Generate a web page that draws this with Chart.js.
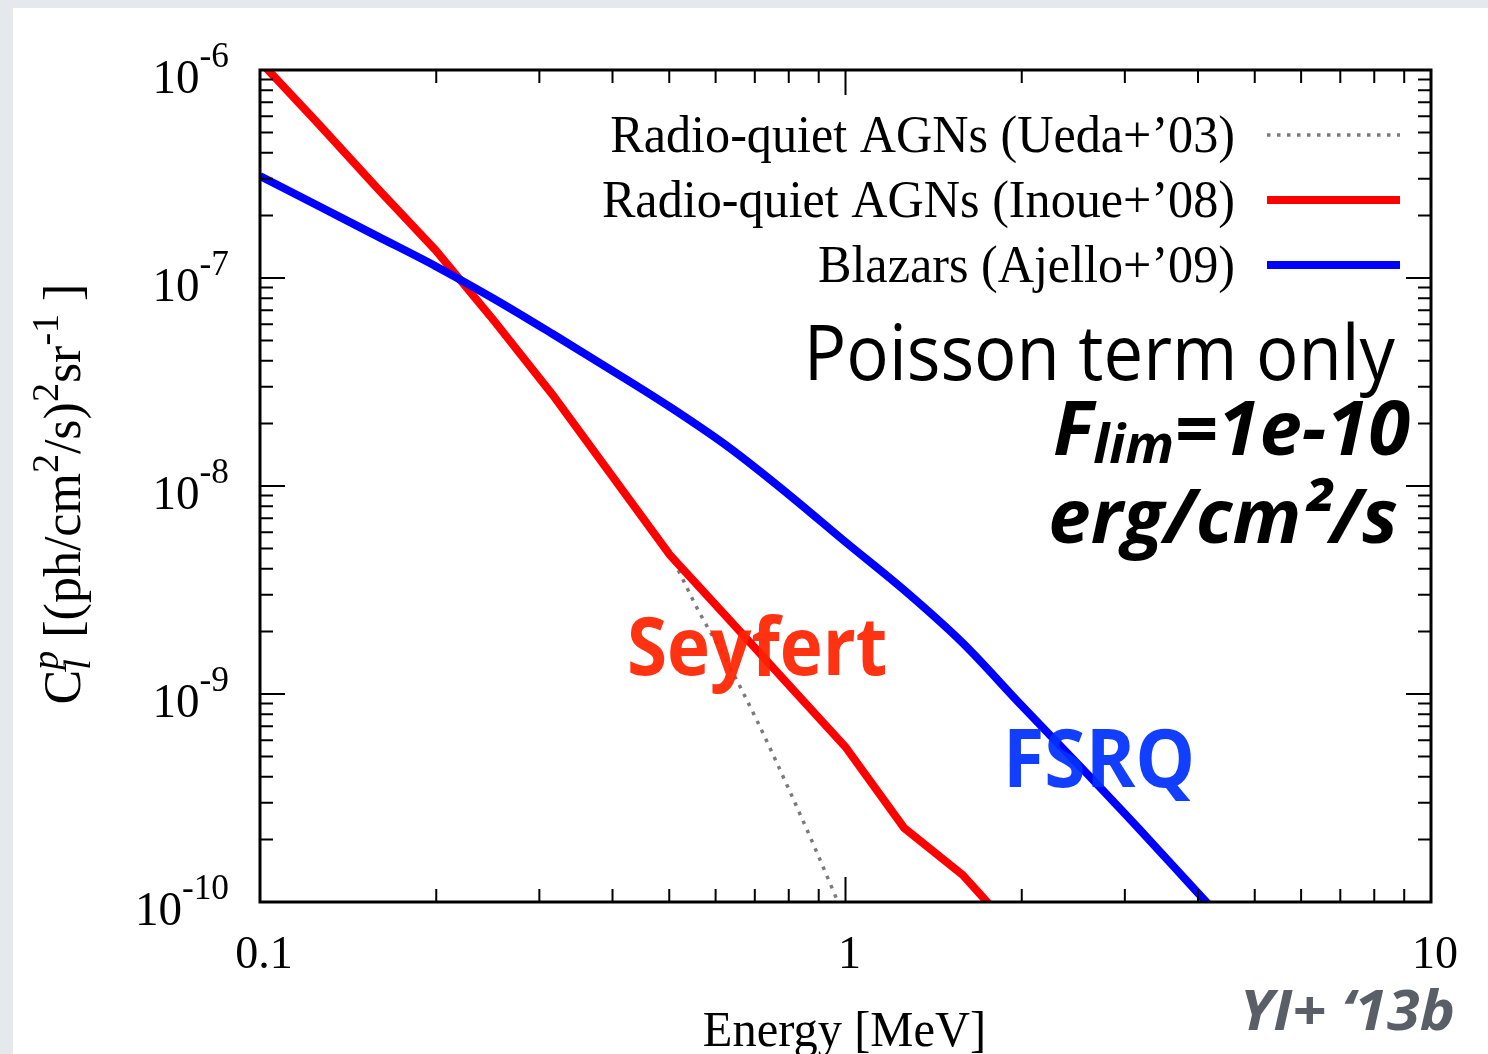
<!DOCTYPE html>
<html lang="en">
  <head>
    <meta charset="UTF-8" />
    <script src="https://cdn.jsdelivr.net/npm/chart.js@4.4.1/dist/chart.umd.min.js"></script>
    <title>Poisson term only</title>
    <style>
      html, body { margin: 0; padding: 0; overflow: hidden; background: #e5e8ec; }
      #panel { position: absolute; left: 13px; top: 8px; right: 0; bottom: 0; background: #ffffff; }
      #myChart { position: absolute; left: 0; top: 0; }
    </style>
  </head>
  <body>
    <div id="panel"></div>
    <canvas id="myChart" width="1488" height="1054"></canvas>
    <script>
      // energies on a 0.1 dex grid [MeV]
      const energies = [0.1, 0.1259, 0.1585, 0.1995, 0.2512, 0.3162, 0.3981, 0.5012,
        0.631, 0.7943, 1.0, 1.259, 1.585, 1.995, 2.512, 3.162, 3.981, 5.012];

      // Radio-quiet AGNs (Inoue+'08)
      const inoue08 = [1.10e-6, 5.50e-7, 2.71e-7, 1.36e-7, 6.21e-8, 2.74e-8, 1.13e-8, 4.66e-9,
        2.30e-9, 1.13e-9, 5.56e-10, 2.27e-10, 1.35e-10, 6.6e-11];

      // Blazars (Ajello+'09)
      const ajello09 = [3.09e-7, 2.22e-7, 1.59e-7, 1.14e-7, 7.93e-8, 5.38e-8, 3.61e-8, 2.40e-8,
        1.54e-8, 9.25e-9, 5.38e-9, 3.16e-9, 1.76e-9, 8.85e-10, 4.51e-10, 2.27e-10, 1.12e-10, 5.56e-11];

      // Radio-quiet AGNs (Ueda+'03): follows Inoue below 0.5 MeV, then drops faster
      const uedaE = [0.1, 0.1259, 0.1585, 0.1995, 0.2512, 0.3162, 0.3981, 0.5012,
        0.5623, 0.631, 0.7079, 0.7943, 0.8913, 1.0];
      const ueda03 = [1.10e-6, 5.50e-7, 2.71e-7, 1.36e-7, 6.21e-8, 2.74e-8, 1.13e-8, 4.66e-9,
        2.48e-9, 1.39e-9, 7.33e-10, 3.65e-10, 1.76e-10, 8.19e-11];

      const seriesNames = ["Radio-quiet AGNs (Ueda+\u201903)", "Radio-quiet AGNs (Inoue+\u201908)", "Blazars (Ajello+\u201909)"];

      // axis ticks
      const xMajor = [0.1, 1, 10];
      const xTickLabels = ["0.1", "1", "10"];
      const yExps = [-10, -9, -8, -7, -6];
      const tickMults = [2, 3, 4, 5, 6, 7, 8, 9];

      function pts(xs, ys) {
        return ys.map((v, i) => ({ x: xs[i], y: v }));
      }

      const SERIF = "'Liberation Serif', 'Times New Roman', serif";
      const SANS = "'Open Sans', 'Noto Sans', sans-serif";

      function txt(ctx, s, x, y, font, color, align, sx) {
        ctx.save();
        ctx.font = font;
        ctx.fillStyle = color;
        ctx.textAlign = align;
        ctx.textBaseline = "alphabetic";
        ctx.translate(x, y);
        ctx.scale(sx, 1);
        ctx.fillText(s, 0, 0);
        ctx.restore();
      }

      // draws a run of [text, font, dy] pieces starting at x
      function runWidth(ctx, parts, sx) {
        let w = 0;
        parts.forEach((p) => { ctx.font = p[1]; w += ctx.measureText(p[0]).width * sx; });
        return w;
      }
      function drawRun(ctx, parts, x, y, color, sx) {
        let cx = x;
        parts.forEach((p) => {
          txt(ctx, p[0], cx, y + (p[2] || 0), p[1], color, "left", sx);
          ctx.font = p[1];
          cx += ctx.measureText(p[0]).width * sx;
        });
      }

      const gnuplotFrame = {
        id: "gnuplotFrame",
        afterDatasetsDraw(chart) {
          const ctx = chart.ctx;
          const a = chart.chartArea;
          const xs = chart.scales.x, ys = chart.scales.y;

          // annotations (a little transparent, lines show through)
          ctx.save();
          ctx.globalAlpha = 0.93;
          txt(ctx, "Seyfert", 627, 675, "bold 80px " + SANS, "#ff2200", "left", 0.91);
          txt(ctx, "FSRQ", 1003, 787, "bold 80px " + SANS, "#0030ff", "left", 0.94);
          ctx.restore();

          txt(ctx, "Poisson term only", 1395, 380, "76px " + SANS, "#000", "right", 0.93);
          const fl = [["F", "italic bold 76px " + SANS, 0], ["lim", "italic bold 54px " + SANS, 8], ["=1e-10", "italic bold 76px " + SANS, 0]];
          drawRun(ctx, fl, 1410 - runWidth(ctx, fl, 1.0), 455, "#000", 1.0);
          txt(ctx, "erg/cm\u00b2/s", 1398, 543, "italic bold 76px " + SANS, "#000", "right", 1.0);
          txt(ctx, "YI+ \u201813b", 1455, 1030, "italic bold 56px " + SANS, "#5a5e66", "right", 1.06);

          // frame
          ctx.save();
          ctx.strokeStyle = "#000";
          ctx.lineWidth = 2;
          ctx.beginPath();
          const drawX = (v, len) => {
            const px = xs.getPixelForValue(v);
            ctx.moveTo(px, a.bottom); ctx.lineTo(px, a.bottom - len);
            ctx.moveTo(px, a.top); ctx.lineTo(px, a.top + len);
          };
          const drawY = (v, len) => {
            const py = ys.getPixelForValue(v);
            ctx.moveTo(a.left, py); ctx.lineTo(a.left + len, py);
            ctx.moveTo(a.right, py); ctx.lineTo(a.right - len, py);
          };
          xMajor.forEach((m, i) => {
            drawX(m, 25);
            if (i < xMajor.length - 1) tickMults.forEach((k) => drawX(m * k, 13));
          });
          yExps.forEach((e, i) => {
            drawY(Math.pow(10, e), 25);
            if (i < yExps.length - 1) tickMults.forEach((k) => drawY(k * Math.pow(10, e), 13));
          });
          ctx.stroke();
          ctx.lineWidth = 3;
          ctx.strokeRect(a.left, a.top, a.right - a.left, a.bottom - a.top);
          ctx.restore();

          // tick labels
          xMajor.forEach((m, i) => {
            txt(ctx, xTickLabels[i], xs.getPixelForValue(m) + 4, 968, "47px " + SERIF, "#000", "center", 0.98);
          });
          yExps.forEach((e) => {
            const py = ys.getPixelForValue(Math.pow(10, e));
            const parts = [["10", "48px " + SERIF, 23], [String(e), "36px " + SERIF, -3]];
            drawRun(ctx, parts, 229 - runWidth(ctx, parts, 0.98), py, "#000", 0.98);
          });

          // axis titles
          txt(ctx, "Energy [MeV]", (a.left + a.right) / 2 - 1, 1046, "50px " + SERIF, "#000", "center", 0.97);

          ctx.save();
          ctx.translate(80, 494);
          ctx.rotate(-Math.PI / 2);
          const big = "52px " + SERIF, sup = "38px " + SERIF, isup = "italic 38px " + SERIF;
          const yt = [["C", big, 0], ["p", isup, -22], [" [(ph/cm", big, 0], ["2", sup, -22], ["/s)", big, 0],
            ["2", sup, -22], ["sr", big, 0], ["-1", sup, -22], [" ]", big, 0]];
          const w = runWidth(ctx, yt, 1);
          drawRun(ctx, yt, -w / 2, 0, "#000", 1);
          // subscript l under the p
          ctx.font = big;
          const cw = ctx.measureText("C").width;
          txt(ctx, "l", -w / 2 + cw, 10, isup, "#000", "left", 1);
          ctx.restore();

          // key
          const ds = chart.data.datasets;
          const keyRows = [[2, 152, 135], [1, 217, 200], [0, 282, 265]];
          keyRows.forEach((r) => {
            const d = ds[r[0]];
            txt(ctx, d.label, 1235, r[1], "52px " + SERIF, "#000", "right", 0.965);
            ctx.save();
            ctx.strokeStyle = d.borderColor;
            ctx.lineWidth = d.borderWidth;
            ctx.setLineDash(d.borderDash || []);
            ctx.beginPath();
            ctx.moveTo(1267, r[2]);
            ctx.lineTo(1400, r[2]);
            ctx.stroke();
            ctx.restore();
          });
        },
      };

      const config = {
        type: "line",
        data: {
          datasets: [
            {
              label: seriesNames[2],
              data: pts(energies, ajello09),
              borderColor: "#0000ff",
              borderWidth: 8,
              cubicInterpolationMode: "monotone",
              order: 1,
            },
            {
              label: seriesNames[1],
              data: pts(energies, inoue08),
              borderColor: "#ff0000",
              borderWidth: 8,
              order: 2,
            },
            {
              label: seriesNames[0],
              data: pts(uedaE, ueda03),
              borderColor: "#7a7a7a",
              borderWidth: 3.5,
              borderDash: [3.5, 6.5],
              cubicInterpolationMode: "monotone",
              order: 3,
            },
          ],
        },
        options: {
          responsive: false,
          animation: false,
          events: [],
          layout: { padding: { left: 260, top: 70, right: 57, bottom: 152 } },
          elements: { point: { radius: 0 }, line: { tension: 0, borderCapStyle: "butt", borderJoinStyle: "miter" } },
          datasets: { line: { clip: 0 } },
          scales: {
            x: { type: "logarithmic", min: 0.1, max: 10, display: false },
            y: { type: "logarithmic", min: 1e-10, max: 1e-6, display: false },
          },
          plugins: { legend: { display: false }, tooltip: { enabled: false } },
        },
        plugins: [gnuplotFrame],
      };

      new Chart(document.getElementById("myChart"), config);
    </script>
  </body>
</html>
